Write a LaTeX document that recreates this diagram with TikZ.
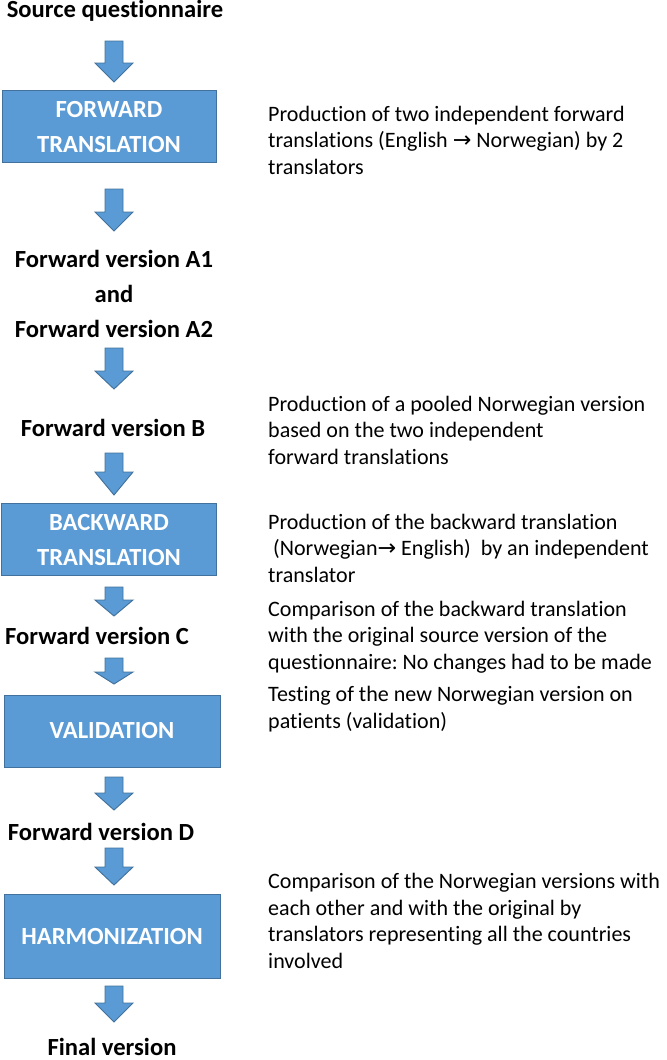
\documentclass[tikz,border=0pt]{standalone}
\usepackage{fontspec}
\usepackage{xcolor}
\usepackage{tikz}
\setmainfont[Ligatures=NoCommon]{Carlito}
\newfontfamily\symfont{DejaVu Sans}
\definecolor{boxblue}{HTML}{5B9BD5}
\definecolor{boxedge}{HTML}{41719C}
\newcommand{\toarrow}{{\symfont\fontsize{19}{20}\selectfont →}}
\frenchspacing

\begin{document}
\begin{tikzpicture}[x=0.03cm,y=-0.03cm,
    stepname/.style={font=\fontsize{21}{25.5}\selectfont\bfseries,align=center,inner sep=0pt},
    stepbox/.style={fill=boxblue,draw=boxedge,thick},
    note/.style={anchor=west,align=left,font=\fontsize{18.8}{22.6}\selectfont,inner sep=0pt},
    blockarrow/.style={fill=boxblue,draw=boxedge,thick}]
        \useasboundingbox (0,0) rectangle (666,1060);
        % boxes
        \filldraw[stepbox] (2,90) rectangle (216,162);
        \filldraw[stepbox] (1,503) rectangle (216,575);
        \filldraw[stepbox] (4,695) rectangle (220,767);
        \filldraw[stepbox] (4,894) rectangle (220,978);
        \node[stepname,text=white] (fwd) at (109,127) {FORWARD\\[4pt]TRANSLATION};
        \node[stepname,text=white] (bwd) at (109,540) {BACKWARD\\[4pt]TRANSLATION};
        \node[stepname,text=white] (val) at (112,731) {VALIDATION};
        \node[stepname,text=white] (harm) at (112,937) {HARMONIZATION};
        % block arrows
        \foreach \t/\h/\e in {41/63/82,189/212/231,348/371/389,453/472/495,587/600/616,658/672/684,777/793/810,848/867/885,986/1003/1022}
            \filldraw[blockarrow] (105,\t) -- (123,\t) -- (123,\h) -- (133,\h) -- (114,\e) -- (95,\h) -- (105,\h) -- cycle;
        % versions
        \node[stepname] (src) at (115,11) {Source questionnaire};
        \node[stepname] (va) at (114,294) {Forward version A1\\[4pt]and\\[4pt]Forward version A2};
        \node[stepname] (vb) at (113,428) {Forward version B};
        \node[stepname] (vc) at (97,636) {Forward version C};
        \node[stepname] (vd) at (101,832) {Forward version D};
        \node[stepname] (final) at (112,1047) {Final version};
        % descriptions
        \node[note] (n1) at (268,140) {Production of two independent forward\\translations (English \toarrow\ Norwegian) by 2\\translators};
        \node[note] (n2) at (268,430) {Production of a pooled Norwegian version\\based on the two independent\\forward translations};
        \node[note] (n3) at (268,548) {Production of the backward translation\\\ (Norwegian\toarrow\ English)\ \ by an independent\\translator};
        \node[note] (n4) at (268,637) {Comparison of the backward translation\\with the original source version of the\\questionnaire: No changes had to be made};
        \node[note] (n5) at (268,709) {Testing of the new Norwegian version on\\patients (validation)};
        \node[note] (n6) at (268,921) {Comparison of the Norwegian versions with\\each other and with the original by\\translators representing all the countries\\involved};
\end{tikzpicture}
\end{document}
